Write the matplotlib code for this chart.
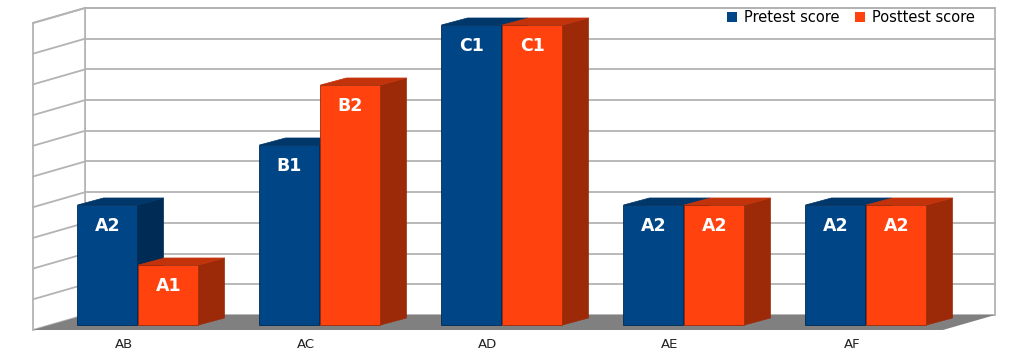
import numpy as np
import matplotlib
matplotlib.use("Agg")
import matplotlib.pyplot as plt
from matplotlib.patches import Polygon, Patch

# data
categories = ['AB', 'AC', 'AD', 'AE', 'AF']
pretest = [2, 3, 5, 2, 2]
posttest = [1, 4, 5, 2, 2]
pre_labels = ['A2', 'B1', 'C1', 'A2', 'A2']
post_labels = ['A1', 'B2', 'C1', 'A2', 'A2']
series_names = ['Pretest score', 'Posttest score']
grid_ticks = np.arange(0.5, 5.01, 0.5)

# colours (front, side, top)
blue = ('#004586', '#002b55', '#00376b')
orange = ('#ff420e', '#9c2a08', '#c2330b')
wall_line = '#b3b3b3'
floor_col = '#808080'

fig = plt.figure(figsize=(10.24, 3.6), dpi=100)
ax = fig.add_axes([0, 0, 1, 1])
ax.set_xlim(-0.7555, 4.871)
ax.set_ylim(-0.5833, 5.4167)
ax.axis('off')

# fake 3d geometry (in data units)
bw = 0.33          # bar width
bdx, bdy = 0.143, 0.117   # bar depth offset
wdx, wdy = 0.286, 0.25    # floor / wall depth offset
wall_x0, wall_x1 = -0.288, 4.712
wall_y0 = 0.167
wall_scale = 1.0233

def wy(v):
    return wall_y0 + v * wall_scale

# back wall + left wall
ax.add_patch(Polygon([(wall_x0, wy(0)), (wall_x1, wy(0)), (wall_x1, wy(5)),
                      (wall_x0, wy(5))], closed=True, fc='white',
                     ec=wall_line, lw=1.3, zorder=1))
ax.add_patch(Polygon([(wall_x0 - wdx, wy(0) - wdy), (wall_x0, wy(0)),
                      (wall_x0, wy(5)), (wall_x0 - wdx, wy(5) - wdy)],
                     closed=True, fc='white', ec=wall_line, lw=1.3, zorder=1))
for t in grid_ticks:
    ax.plot([wall_x0, wall_x1], [wy(t), wy(t)], color=wall_line, lw=1.3, zorder=1.5)
    ax.plot([wall_x0 - wdx, wall_x0], [wy(t) - wdy, wy(t)], color=wall_line,
            lw=1.3, zorder=1.5)
# floor
ax.add_patch(Polygon([(wall_x0 - wdx, wy(0) - wdy), (wall_x1 - wdx, wy(0) - wdy),
                      (wall_x1, wy(0)), (wall_x0, wy(0))], closed=True,
                     fc=floor_col, ec='none', zorder=2))


def draw_bar(x0, v, cols, label):
    front, side, top = cols
    ax.add_patch(Polygon([(x0 + bw, 0), (x0 + bw + bdx, bdy), (x0 + bw + bdx, v + bdy),
                          (x0 + bw, v)], closed=True, fc=side, ec=side, lw=0.5, zorder=3))
    ax.add_patch(Polygon([(x0, v), (x0 + bdx, v + bdy), (x0 + bw + bdx, v + bdy),
                          (x0 + bw, v)], closed=True, fc=top, ec=top, lw=0.5, zorder=3))
    ax.add_patch(Polygon([(x0, 0), (x0 + bw, 0), (x0 + bw, v), (x0, v)], closed=True,
                         fc=front, ec=side, lw=0.6, zorder=3))
    ax.text(x0 + bw / 2, v - 0.35, label, color='white', fontsize=12.5,
            fontweight='bold', ha='center', va='center', zorder=4)


for i, cat in enumerate(categories):
    draw_bar(i - bw, pretest[i], blue, pre_labels[i])
    draw_bar(i + 0.005, posttest[i], orange, post_labels[i])
    ax.text(i - 0.075, -0.333, cat, fontsize=9.5, ha='center', va='center',
            color='#222222')

handles = [Patch(fc=blue[0], ec='none'), Patch(fc=orange[0], ec='none')]
ax.legend(handles, series_names, loc='upper right', frameon=False,
          bbox_to_anchor=(0.962, 1.0), ncol=2, fontsize=10.5,
          handlelength=0.7, handleheight=0.7, handletextpad=0.5,
          columnspacing=1.0, borderaxespad=0.3)

fig.savefig('out.png', dpi=100)
